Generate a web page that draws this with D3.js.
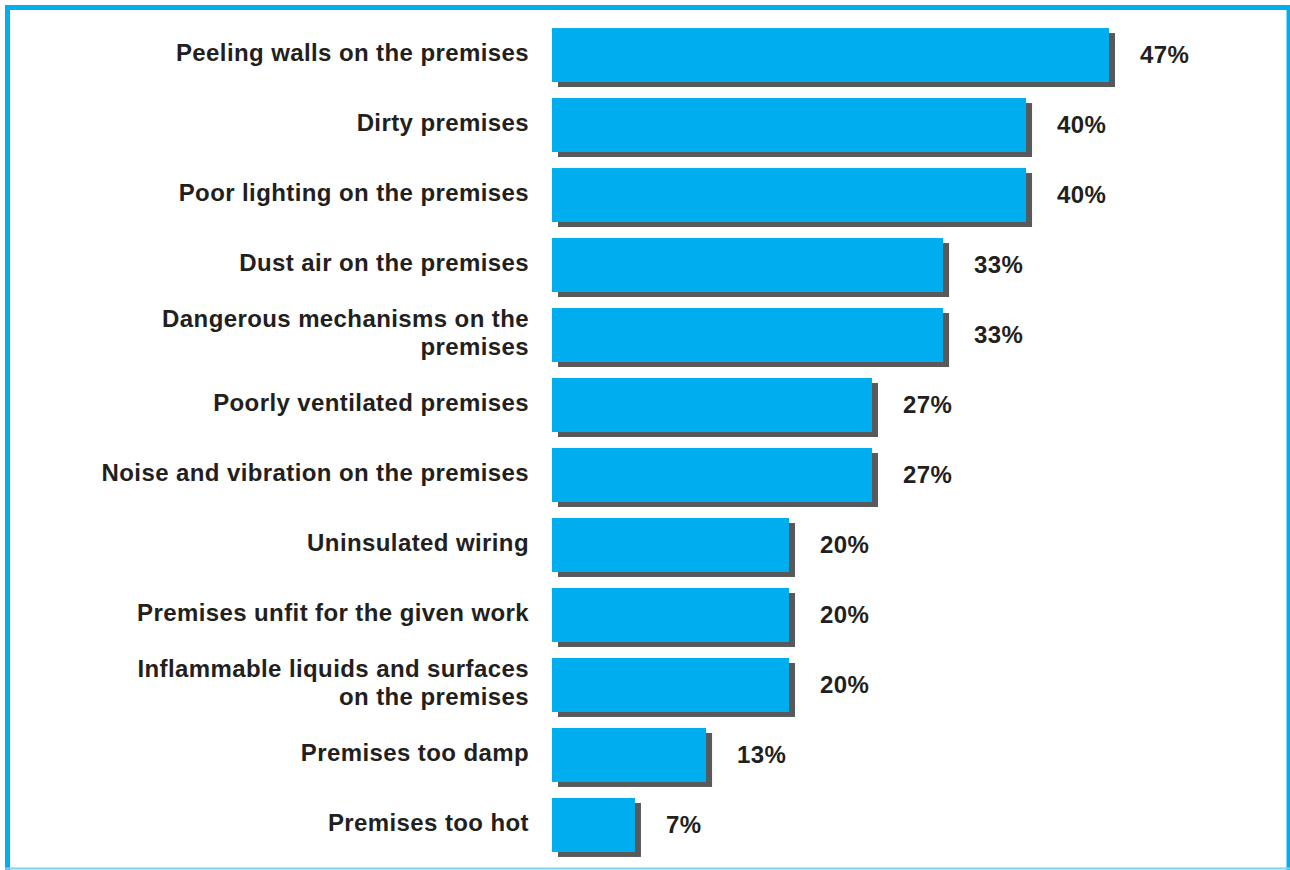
<!DOCTYPE html>
<html>
<head>
<meta charset="utf-8">
<script src="https://cdn.jsdelivr.net/npm/d3@7"></script>
<style>
  html, body { margin: 0; padding: 0; background: #ffffff; }
  svg { display: block; }
  text { font-family: "Liberation Sans", Arial, Helvetica, sans-serif; font-weight: bold; fill: #231f20; letter-spacing: 0.4px; }
</style>
</head>
<body>
<svg id="chart" width="1290" height="870"></svg>
<script>
// Workplace hazards reported, share of respondents
const categories = [
  ["Peeling walls on the premises"],
  ["Dirty premises"],
  ["Poor lighting on the premises"],
  ["Dust air on the premises"],
  ["Dangerous mechanisms on the", "premises"],
  ["Poorly ventilated premises"],
  ["Noise and vibration on the premises"],
  ["Uninsulated wiring"],
  ["Premises unfit for the given work"],
  ["Inflammable liquids and surfaces", "on the premises"],
  ["Premises too damp"],
  ["Premises too hot"]
];
const values = [47, 40, 40, 33, 33, 27, 27, 20, 20, 20, 13, 7];
const valueLabels = ["47%", "40%", "40%", "33%", "33%", "27%", "27%", "20%", "20%", "20%", "13%", "7%"];

const svg = d3.select("#chart");

const blue = "#00aeef";
const shadow = "#58595b";

// Frame
svg.append("rect").attr("x", 7.5).attr("y", 7.5).attr("width", 1281.5).attr("height", 870)
  .attr("fill", "none").attr("stroke", blue).attr("stroke-width", 5);
svg.append("line").attr("x1", 5).attr("x2", 1290).attr("y1", 868.5).attr("y2", 868.5)
  .attr("stroke", "#7fd0f2").attr("stroke-width", 2);

const x = d3.scaleLinear().domain([0, 47]).range([552, 1109]);
const y = d3.scaleBand().domain(d3.range(values.length)).range([20, 860]).paddingInner(0.229).paddingOuter(0.115);

const rows = svg.append("g").selectAll("g").data(values).join("g");

// Drop shadows
rows.append("rect")
  .attr("x", x(0) + 6)
  .attr("y", (d, i) => y(i) + 5)
  .attr("width", d => x(d) - x(0))
  .attr("height", y.bandwidth())
  .attr("fill", shadow);

// Bars
rows.append("rect")
  .attr("x", x(0))
  .attr("y", (d, i) => y(i))
  .attr("width", d => x(d) - x(0))
  .attr("height", y.bandwidth())
  .attr("fill", blue);

// Value labels
rows.append("text")
  .attr("x", d => x(d) + 31)
  .attr("y", (d, i) => y(i) + y.bandwidth() / 2)
  .attr("dy", "0.35em")
  .attr("font-size", 24)
  .text((d, i) => valueLabels[i]);

// Category labels, right-aligned next to the bars
const lab = rows.append("text")
  .attr("text-anchor", "end")
  .attr("font-size", 24)
  .attr("y", (d, i) => {
    const n = categories[i].length;
    return y(i) + y.bandwidth() / 2 - (n - 1) * 14 - 2;
  });
lab.selectAll("tspan").data((d, i) => categories[i]).join("tspan")
  .attr("x", 529)
  .attr("dy", (t, j) => j === 0 ? "0.35em" : "28px")
  .text(t => t);
</script>
</body>
</html>
